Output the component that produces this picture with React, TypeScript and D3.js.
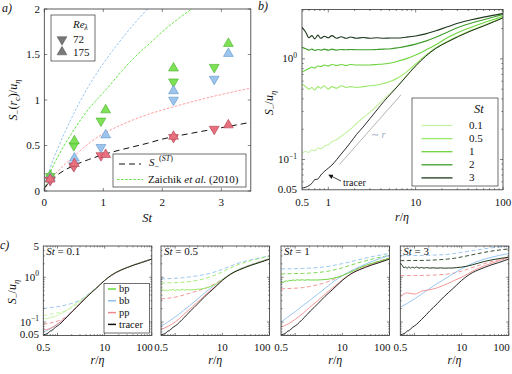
import * as d3 from "d3";

const W = 512;
const H = 374;
const SERIF = "Liberation Serif";
const TF = { fontFamily: SERIF };

// ---- panel a data (St, S-(r_c)/u_eta) ----
const ST_RE72 = [0.1, 0.5, 0.96, 2.19, 2.88];
const ST_RE175 = [0.1, 0.51, 1.04, 2.19, 3.12];
const BP_RE72 = [0.16, 0.5, 0.77, 1.2, 1.36];
const BP_RE175 = [0.17, 0.55, 0.89, 1.35, 1.62];
const BB_RE72 = [0.12, 0.28, 0.48, 1.0, 1.23];
const BB_RE175 = [0.14, 0.36, 0.615, 1.1, 1.51];
const PP_RE72 = [0.12, 0.27, 0.39, 0.59, 0.68];
const PP_RE175 = [0.13, 0.3, 0.4, 0.6, 0.725];

const ST_MODEL = [0, 0.1, 0.25, 0.5, 0.75, 1, 1.25, 1.5, 1.75, 2, 2.5, 3, 3.5];
const S_ST = [0.03, 0.11, 0.19, 0.28, 0.345, 0.4, 0.445, 0.485, 0.525, 0.57, 0.635, 0.695, 0.755];
const ZA_BB = [0, 0.25, 0.5, 0.85, 1.15, 1.4, 1.62, 1.82, 2.0, 2.17, 2.45, 2.7, 2.9];
const ZA_BP = [0, 0.2, 0.4, 0.67, 0.9, 1.08, 1.27, 1.45, 1.6, 1.75, 2.0, 2.2, 2.38];
const ZA_PP = [0, 0.12, 0.23, 0.38, 0.52, 0.63, 0.71, 0.78, 0.84, 0.89, 0.98, 1.06, 1.13];

// ---- panel b data (r/eta, S-/u_eta) ----
const R_FINE = [0.5, 0.55, 0.6, 0.65, 0.7, 0.76, 0.82, 0.9, 1.0, 1.1, 1.25, 1.4, 1.6, 1.8, 2.1, 2.5, 3, 3.6, 4.3, 5.2, 6.3, 7.7, 10, 13, 17, 23, 31, 42, 60, 80, 100];
const TRACER = [0.052, 0.053, 0.055, 0.058, 0.063, 0.064, 0.07, 0.076, 0.082, 0.088, 0.1, 0.113, 0.13, 0.148, 0.177, 0.21, 0.255, 0.31, 0.375, 0.45, 0.54, 0.66, 0.85, 1.06, 1.27, 1.47, 1.67, 1.88, 2.12, 2.35, 2.55];
const BP_ST01 = [0.116, 0.12, 0.118, 0.125, 0.122, 0.13, 0.128, 0.136, 0.14, 0.15, 0.158, 0.17, 0.185, 0.2, 0.228, 0.26, 0.295, 0.34, 0.395, 0.46, 0.545, 0.665, 0.855, 1.065, 1.275, 1.48, 1.68, 1.89, 2.13, 2.36, 2.56];
const BP_ST05 = [0.56, 0.53, 0.5, 0.52, 0.49, 0.53, 0.51, 0.54, 0.5, 0.53, 0.51, 0.54, 0.52, 0.53, 0.52, 0.53, 0.54, 0.55, 0.57, 0.6, 0.65, 0.73, 0.89, 1.08, 1.28, 1.49, 1.69, 1.9, 2.15, 2.38, 2.58];
const BP_ST1 = [0.74, 0.77, 0.8, 0.83, 0.81, 0.85, 0.84, 0.87, 0.85, 0.88, 0.86, 0.88, 0.86, 0.88, 0.87, 0.87, 0.87, 0.88, 0.89, 0.91, 0.95, 1.0, 1.09, 1.22, 1.38, 1.62, 1.84, 2.04, 2.28, 2.48, 2.66];
const BP_ST2 = [1.3, 1.26, 1.22, 1.25, 1.21, 1.24, 1.22, 1.25, 1.22, 1.25, 1.22, 1.24, 1.23, 1.24, 1.23, 1.23, 1.23, 1.24, 1.25, 1.26, 1.29, 1.33, 1.4, 1.5, 1.64, 1.84, 2.06, 2.25, 2.45, 2.62, 2.76];
const BP_ST3 = [2.05, 1.85, 1.62, 1.7, 1.58, 1.72, 1.6, 1.68, 1.62, 1.7, 1.6, 1.66, 1.6, 1.65, 1.6, 1.63, 1.6, 1.62, 1.6, 1.61, 1.61, 1.64, 1.69, 1.77, 1.9, 2.08, 2.27, 2.43, 2.6, 2.72, 2.82];
const ST_LABELS = ["0.1", "0.5", "1", "2", "3"];
const ST_COLORS = ["#c6f2a4", "#9be86a", "#6fd43e", "#3f9e2a", "#1f3a1f"];

// ---- panel c data ----
const R_COARSE = [0.5, 0.7, 1, 1.5, 2, 3, 5, 7, 10, 20, 40, 100];
const C01_BB = [0.06, 0.07, 0.09, 0.126, 0.166, 0.26, 0.44, 0.6, 0.85, 1.37, 1.86, 2.56];
const C01_PP = [0.066, 0.072, 0.09, 0.124, 0.164, 0.258, 0.44, 0.6, 0.85, 1.37, 1.86, 2.56];
const C01_BB_M = [0.2, 0.21, 0.22, 0.24, 0.26, 0.31, 0.46, 0.61, 0.85, 1.37, 1.86, 2.56];
const C01_BP_M = [0.14, 0.15, 0.16, 0.18, 0.21, 0.28, 0.45, 0.6, 0.85, 1.37, 1.86, 2.56];
const C01_PP_M = [0.09, 0.095, 0.105, 0.13, 0.17, 0.26, 0.44, 0.6, 0.85, 1.37, 1.86, 2.56];
const C05_BB = [0.08, 0.1, 0.13, 0.18, 0.23, 0.33, 0.52, 0.68, 0.9, 1.42, 1.9, 2.6];
const C05_PP = [0.068, 0.08, 0.1, 0.145, 0.19, 0.28, 0.46, 0.62, 0.86, 1.38, 1.86, 2.56];
const C05_BB_M = [0.92, 0.93, 0.95, 0.98, 1.02, 1.08, 1.2, 1.32, 1.5, 2.0, 2.45, 3.0];
const C05_BP_M = [0.74, 0.75, 0.76, 0.78, 0.8, 0.86, 0.98, 1.12, 1.32, 1.85, 2.35, 2.95];
const C05_PP_M = [0.33, 0.34, 0.36, 0.4, 0.44, 0.5, 0.6, 0.72, 0.9, 1.4, 1.9, 2.6];
const C1_BB = [0.1, 0.13, 0.17, 0.24, 0.3, 0.42, 0.64, 0.85, 1.08, 1.6, 2.2, 3.1];
const C1_PP = [0.077, 0.09, 0.115, 0.16, 0.21, 0.3, 0.48, 0.64, 0.88, 1.4, 1.9, 2.65];
const C1_BB_M = [1.54, 1.55, 1.56, 1.58, 1.6, 1.65, 1.75, 1.87, 2.02, 2.4, 2.85, 3.4];
const C1_BP_M = [1.19, 1.2, 1.21, 1.22, 1.24, 1.28, 1.37, 1.48, 1.63, 2.05, 2.5, 3.1];
const C1_PP_M = [0.55, 0.56, 0.57, 0.59, 0.62, 0.68, 0.8, 0.93, 1.1, 1.55, 2.0, 2.7];
const C3_BB = [0.215, 0.26, 0.33, 0.44, 0.54, 0.72, 1.0, 1.25, 1.55, 2.2, 2.75, 3.4];
const C3_PP = [0.36, 0.45, 0.42, 0.5, 0.52, 0.58, 0.72, 0.85, 1.0, 1.5, 2.0, 2.75];
const C3_BB_M = [3.04, 3.05, 3.06, 3.08, 3.1, 3.15, 3.25, 3.4, 3.6, 4.05, 4.5, 5.0];
const C3_BP_M = [2.35, 2.36, 2.37, 2.38, 2.4, 2.45, 2.55, 2.66, 2.85, 3.3, 3.8, 4.3];
const C3_PP_M = [1.09, 1.09, 1.1, 1.1, 1.11, 1.13, 1.18, 1.25, 1.37, 1.75, 2.2, 2.8];

const C_PANELS = [
  { st: "0.1", bp: BP_ST01, col: ST_COLORS[0], bb: C01_BB, pp: C01_PP, bbM: C01_BB_M, bpM: C01_BP_M, ppM: C01_PP_M },
  { st: "0.5", bp: BP_ST05, col: ST_COLORS[1], bb: C05_BB, pp: C05_PP, bbM: C05_BB_M, bpM: C05_BP_M, ppM: C05_PP_M },
  { st: "1", bp: BP_ST1, col: ST_COLORS[2], bb: C1_BB, pp: C1_PP, bbM: C1_BB_M, bpM: C1_BP_M, ppM: C1_PP_M },
  { st: "3", bp: BP_ST3, col: ST_COLORS[4], bb: C3_BB, pp: C3_PP, bbM: C3_BB_M, bpM: C3_BP_M, ppM: C3_PP_M },
];

const GREEN = "#66dd3a";
const BLUE = "#8fc0ee";
const RED = "#f08a8a";
const MK = {
  bp: { fill: "#7ee055", stroke: "#45b02c" },
  bb: { fill: "#9cc4ec", stroke: "#5f95c8" },
  pp: { fill: "#e8707e", stroke: "#b04454" },
};

const LOG_MINOR = [0.06, 0.07, 0.08, 0.09, 0.2, 0.3, 0.4, 0.5, 0.6, 0.7, 0.8, 0.9, 2, 3, 4, 5, 6, 7, 8, 9, 20, 30, 40, 50, 60, 70, 80, 90];

type Box = { x0: number; x1: number; y0: number; y1: number };

function TickMarks({ box, xs, ys, len }: { box: Box; xs: number[]; ys: number[]; len: number }) {
  return (
    <g stroke="#333" strokeWidth={0.6}>
      {xs.map((x, i) => (
        <g key={"x" + i}>
          <line x1={x} x2={x} y1={box.y1} y2={box.y1 - len} />
          <line x1={x} x2={x} y1={box.y0} y2={box.y0 + len} />
        </g>
      ))}
      {ys.map((y, i) => (
        <g key={"y" + i}>
          <line x1={box.x0} x2={box.x0 + len} y1={y} y2={y} />
          <line x1={box.x1} x2={box.x1 - len} y1={y} y2={y} />
        </g>
      ))}
    </g>
  );
}

function Pow10({ x, y, exp }: { x: number; y: number; exp: string }) {
  return (
    <text x={x} y={y} textAnchor="end" fontSize={11} fontFamily={SERIF}>
      10<tspan dy={-4.5} fontSize={7.5}>{exp}</tspan>
    </text>
  );
}

function SLabel({ x, y, withRc }: { x: number; y: number; withRc: boolean }) {
  return (
    <text transform={`translate(${x},${y}) rotate(-90)`} textAnchor="middle" fontSize={12} fontFamily={SERIF}>
      <tspan fontStyle="italic">S</tspan>
      <tspan dy={3} fontSize={8.5}>−</tspan>
      {withRc ? (
        <>
          <tspan dy={-3}>(</tspan>
          <tspan fontStyle="italic">r</tspan>
          <tspan dy={3} fontSize={8.5}>c</tspan>
          <tspan dy={-3}>)/</tspan>
        </>
      ) : (
        <tspan dy={-3}>/</tspan>
      )}
      <tspan fontStyle="italic">u</tspan>
      <tspan dy={3} fontSize={8.5} fontStyle="italic">η</tspan>
    </text>
  );
}

function RLabel({ x, y }: { x: number; y: number }) {
  return (
    <text x={x} y={y} textAnchor="middle" fontSize={12} fontStyle="italic" fontFamily={SERIF}>
      r<tspan fontStyle="normal">/</tspan>η
    </text>
  );
}

export default function App() {
  // ---------- panel a ----------
  const aBox: Box = { x0: 44.3, x1: 250.8, y0: 9, y1: 191 };
  const ax = d3.scaleLinear().domain([0, 3.5]).range([aBox.x0, aBox.x1]);
  const ay = d3.scaleLinear().domain([0, 2]).range([aBox.y1, aBox.y0]);
  const aLine = (vals: number[]) =>
    d3.line<number>().x((_, i) => ax(ST_MODEL[i])).y((v) => ay(v)).curve(d3.curveMonotoneX)(vals) || "";
  const tri = d3.symbol().type(d3.symbolTriangle).size(42)() || "";

  const markerSet = (sts: number[], vals: number[], kind: "bp" | "bb" | "pp", down: boolean) =>
    sts.map((s, i) => (
      <path
        key={kind + down + i}
        d={tri}
        transform={`translate(${ax(s)},${ay(vals[i])})${down ? " rotate(180)" : ""}`}
        fill={MK[kind].fill}
        stroke={MK[kind].stroke}
        strokeWidth={0.6}
      />
    ));

  // ---------- panel b ----------
  const bBox: Box = { x0: 302, x1: 503, y0: 9.4, y1: 189.8 };
  const bx = d3.scaleLog().domain([0.5, 100]).range([bBox.x0, bBox.x1]);
  const by = d3.scaleLog().domain([0.05, 3.1]).range([bBox.y1, bBox.y0]);
  const bLine = (vals: number[]) =>
    d3.line<number>().x((_, i) => bx(R_FINE[i])).y((v) => by(v)).curve(d3.curveMonotoneX)(vals) || "";
  const bSeries = [BP_ST01, BP_ST05, BP_ST1, BP_ST2, BP_ST3];

  // ---------- panel c ----------
  const cLefts = [43.3, 161, 281, 400.3];
  const cW = 108.5;
  const cy = d3.scaleLog().domain([0.05, 5]).range([335.5, 246]);
  const minorX = LOG_MINOR.filter((v) => v > 0.5 && v < 100);

  return (
    <svg
      width={W}
      height={H}
      viewBox={`0 0 ${W} ${H}`}
      style={{ position: "absolute", left: 0, top: 0, background: "#fff", fontFamily: SERIF }}
      fill="#111"
    >
      <defs>
        <clipPath id="clipA">
          <rect x={aBox.x0} y={aBox.y0} width={aBox.x1 - aBox.x0} height={aBox.y1 - aBox.y0} />
        </clipPath>
        <clipPath id="clipB">
          <rect x={bBox.x0} y={bBox.y0} width={bBox.x1 - bBox.x0} height={bBox.y1 - bBox.y0} />
        </clipPath>
        {cLefts.map((l, i) => (
          <clipPath id={"clipC" + i} key={i}>
            <rect x={l} y={246} width={cW} height={335.5 - 246} />
          </clipPath>
        ))}
        <marker id="arrow" viewBox="0 0 6 6" refX={5} refY={3} markerWidth={6} markerHeight={6} orient="auto">
          <path d="M0,0 L6,3 L0,6 z" fill="#111" />
        </marker>
      </defs>

      {/* ================= panel a ================= */}
      <text x={2} y={12} fontSize={12} fontStyle="italic" {...TF}>a)</text>
      <g clipPath="url(#clipA)" fill="none">
        <path d={aLine(ZA_BB)} stroke={BLUE} strokeWidth={0.9} strokeDasharray="2.5,1.6" />
        <path d={aLine(ZA_BP)} stroke="#4fe02a" strokeWidth={0.9} strokeDasharray="2.5,1.6" />
        <path d={aLine(ZA_PP)} stroke="#ff8f8f" strokeWidth={0.9} strokeDasharray="2.5,1.6" />
        <path d={aLine(S_ST)} stroke="#111" strokeWidth={1} strokeDasharray="6,4" />
      </g>
      <g clipPath="url(#clipA)">
        {markerSet(ST_RE72, BP_RE72, "bp", true)}
        {markerSet(ST_RE175, BP_RE175, "bp", false)}
        {markerSet(ST_RE72, BB_RE72, "bb", true)}
        {markerSet(ST_RE175, BB_RE175, "bb", false)}
        {markerSet(ST_RE72, PP_RE72, "pp", true)}
        {markerSet(ST_RE175, PP_RE175, "pp", false)}
      </g>
      <rect x={aBox.x0} y={aBox.y0} width={aBox.x1 - aBox.x0} height={aBox.y1 - aBox.y0} fill="none" stroke="#333" strokeWidth={0.8} />
      <TickMarks box={aBox} xs={[0, 1, 2, 3].map(ax)} ys={[0, 0.5, 1, 1.5, 2].map(ay)} len={3} />
      {[0, 0.5, 1, 1.5, 2].map((v) => (
        <text key={v} x={40} y={ay(v) + 3.5} textAnchor="end" fontSize={11} {...TF}>{v}</text>
      ))}
      {[0, 1, 2, 3].map((v) => (
        <text key={v} x={ax(v)} y={206} textAnchor="middle" fontSize={11} {...TF}>{v}</text>
      ))}
      <text x={147} y={222} textAnchor="middle" fontSize={12.5} fontStyle="italic" {...TF}>St</text>
      <SLabel x={17} y={100} withRc={true} />

      {/* legend Re */}
      <rect x={51} y={15} width={44} height={46} fill="#fff" stroke="#333" strokeWidth={0.7} />
      <text x={73} y={28} fontSize={11} fontStyle="italic" {...TF}>
        Re<tspan dy={2} fontSize={7.5}>λ</tspan>
      </text>
      <path d={tri} transform="translate(62,39.5) rotate(180)" fill="#777" stroke="#555" strokeWidth={0.5} />
      <text x={73} y={43} fontSize={11} {...TF}>72</text>
      <path d={tri} transform="translate(62,52)" fill="#777" stroke="#555" strokeWidth={0.5} />
      <text x={73} y={56} fontSize={11} {...TF}>175</text>

      {/* legend models */}
      <rect x={113} y={154} width={133} height={33} fill="#fff" stroke="#333" strokeWidth={0.7} />
      <line x1={119} x2={141} y1={164} y2={164} stroke="#111" strokeWidth={1} strokeDasharray="6,4" />
      <text x={149} y={166} fontSize={11} {...TF}>
        <tspan fontStyle="italic">S</tspan>
        <tspan dy={3} fontSize={8}>−</tspan>
        <tspan dy={-8} fontSize={8}>(</tspan>
        <tspan fontSize={8} fontStyle="italic">ST</tspan>
        <tspan fontSize={8}>)</tspan>
      </text>
      <line x1={117} x2={143} y1={179.5} y2={179.5} stroke="#4fe02a" strokeWidth={0.9} strokeDasharray="2.5,1.6" />
      <text x={148} y={183} fontSize={11} {...TF}>
        Zaichik <tspan fontStyle="italic">et al.</tspan> (2010)
      </text>

      {/* ================= panel b ================= */}
      <text x={258} y={10} fontSize={12} fontStyle="italic" {...TF}>b)</text>
      <g clipPath="url(#clipB)" fill="none">
        {bSeries.map((s, i) => (
          <path key={i} d={bLine(s)} stroke={ST_COLORS[i]} strokeWidth={1.1} />
        ))}
        <path d={bLine(TRACER)} stroke="#111" strokeWidth={0.9} />
        <line x1={bx(1.34)} y1={by(0.089)} x2={bx(6.8)} y2={by(0.44)} stroke="#aaa" strokeWidth={0.9} />
      </g>
      <text x={371} y={138} fontSize={10} fill="#9ab" {...TF}>
        ∼ <tspan fontStyle="italic">r</tspan>
      </text>
      <line x1={341} y1={181} x2={329} y2={175} stroke="#111" strokeWidth={0.8} markerEnd="url(#arrow)" />
      <text x={343} y={186} fontSize={10} {...TF}>tracer</text>
      <rect x={bBox.x0} y={bBox.y0} width={bBox.x1 - bBox.x0} height={bBox.y1 - bBox.y0} fill="none" stroke="#333" strokeWidth={0.8} />
      <TickMarks box={bBox} xs={[1, 10, 100].map(bx)} ys={[0.1, 1].map(by)} len={3} />
      <TickMarks
        box={bBox}
        xs={minorX.map(bx)}
        ys={LOG_MINOR.filter((v) => v > 0.05 && v < 3.1).map(by)}
        len={1.6}
      />
      <Pow10 x={297} y={by(1) + 3.5} exp="0" />
      <Pow10 x={297} y={by(0.1) + 3.5} exp="−1" />
      <text x={297} y={by(0.05) + 3} textAnchor="end" fontSize={11} {...TF}>0.05</text>
      {[0.5, 1, 10, 100].map((v) => (
        <text key={v} x={bx(v)} y={206} textAnchor="middle" fontSize={11} {...TF}>{v}</text>
      ))}
      <RLabel x={402} y={221} />
      <SLabel x={273} y={103} withRc={false} />

      {/* legend St */}
      <rect x={412} y={98} width={86} height={88} fill="#fff" stroke="#333" strokeWidth={0.7} />
      <text x={474} y={113} fontSize={12.5} fontStyle="italic" {...TF}>St</text>
      {ST_LABELS.map((lab, i) => {
        const yy = 125.5 + i * 13.1;
        return (
          <g key={lab}>
            <line x1={421.5} x2={452.5} y1={yy} y2={yy} stroke={ST_COLORS[i]} strokeWidth={1.3} />
            <text x={469} y={yy + 3.5} fontSize={11} {...TF}>{lab}</text>
          </g>
        );
      })}

      {/* ================= panel c ================= */}
      <text x={0} y={249} fontSize={12} fontStyle="italic" {...TF}>c)</text>
      {C_PANELS.map((p, i) => {
        const l = cLefts[i];
        const box: Box = { x0: l, x1: l + cW, y0: 246, y1: 335.5 };
        const cx = d3.scaleLog().domain([0.5, 100]).range([box.x0, box.x1]);
        const fine = (vals: number[]) =>
          d3.line<number>().x((_, k) => cx(R_FINE[k])).y((v) => cy(v)).curve(d3.curveMonotoneX)(vals) || "";
        const coarse = (vals: number[]) =>
          d3.line<number>().x((_, k) => cx(R_COARSE[k])).y((v) => cy(v)).curve(d3.curveMonotoneX)(vals) || "";
        return (
          <g key={p.st}>
            <g clipPath={`url(#clipC${i})`} fill="none">
              <path d={coarse(p.bbM)} stroke={BLUE} strokeWidth={0.9} strokeDasharray="4,2.5" />
              <path d={coarse(p.bpM)} stroke={p.col} strokeWidth={0.9} strokeDasharray="4,2.5" />
              <path d={coarse(p.ppM)} stroke={RED} strokeWidth={0.9} strokeDasharray="4,2.5" />
              <path d={coarse(p.bb)} stroke={BLUE} strokeWidth={0.9} />
              <path d={coarse(p.pp)} stroke={RED} strokeWidth={0.9} />
              <path d={fine(p.bp)} stroke={p.col} strokeWidth={1} />
              <path d={fine(TRACER)} stroke="#111" strokeWidth={0.9} />
            </g>
            <rect x={box.x0} y={box.y0} width={cW} height={box.y1 - box.y0} fill="none" stroke="#333" strokeWidth={0.8} />
            <TickMarks box={box} xs={[1, 10, 100].map(cx)} ys={[0.1, 1].map(cy)} len={2.6} />
            <TickMarks
              box={box}
              xs={minorX.map(cx)}
              ys={LOG_MINOR.filter((v) => v > 0.05 && v < 5).map(cy)}
              len={1.4}
            />
            <text x={l + 3} y={255} fontSize={11} {...TF}>
              <tspan fontStyle="italic">St</tspan> = {p.st}
            </text>
            <text x={cx(0.5)} y={351} textAnchor="middle" fontSize={11} {...TF}>0.5</text>
            <text x={cx(10)} y={351} textAnchor="middle" fontSize={11} {...TF}>10</text>
            <text x={cx(100) + 1} y={351} textAnchor="end" fontSize={11} {...TF}>100</text>
            <RLabel x={l + cW / 2} y={364} />
          </g>
        );
      })}
      <text x={39} y={cy(5) + 4} textAnchor="end" fontSize={11} {...TF}>5</text>
      <Pow10 x={39} y={cy(1) + 3.5} exp="0" />
      <Pow10 x={39} y={cy(0.1) + 3.5} exp="−1" />
      <text x={39} y={cy(0.05) + 2} textAnchor="end" fontSize={11} {...TF}>0.05</text>
      <SLabel x={16} y={292} withRc={false} />

      {/* legend c */}
      <rect x={104} y={283.5} width={45.5} height={49.5} fill="#fff" stroke="#333" strokeWidth={0.7} />
      {[
        { lab: "bp", c: GREEN },
        { lab: "bb", c: BLUE },
        { lab: "pp", c: RED },
        { lab: "tracer", c: "#111" },
      ].map((e, i) => {
        const yy = 289 + i * 11.8;
        return (
          <g key={e.lab}>
            <line x1={108} x2={116} y1={yy} y2={yy} stroke={e.c} strokeWidth={1.5} />
            <text x={119} y={yy + 3.2} fontSize={10.5} {...TF}>{e.lab}</text>
          </g>
        );
      })}
    </svg>
  );
}
